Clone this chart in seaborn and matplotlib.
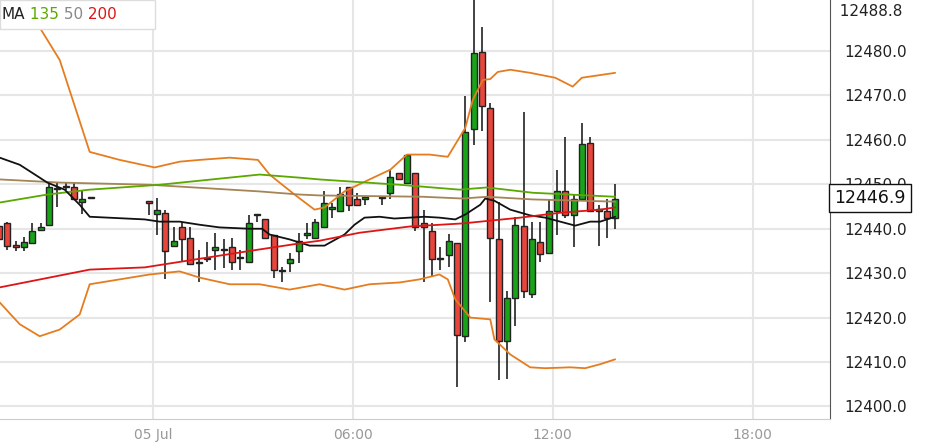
import matplotlib
matplotlib.use("Agg")
import matplotlib.pyplot as plt
import seaborn as sns
import pandas as pd
import numpy as np

# 15-minute candles; index 0 = 05 Jul 00:00
idx = [-19,-18,-17,-16,-15,-14,-13,-12,-11,-10,-9,-8,
       -1,0,1,2,3,4,5,6,7,8,9,10,11,12,13,14,15,16,17,18,19,20,21,22,23,24,25,
       27,28,29,30,31,32,33,34,35,36,37,38,39,40,41,42,43,44,45,46,47,48,49,50,51,52,53,54,55]
opn = [12440.7,12441.2,12436.2,12436.0,12436.9,12439.8,12440.9,12449.0,12449.5,12449.3,12446.1,12447.0,
       12446.1,12443.4,12443.6,12436.2,12440.3,12438.0,12432.4,12433.3,12435.3,12435.3,12435.8,12433.5,12432.4,12443.0,12442.1,12438.7,12430.4,12432.2,12434.9,12438.7,12438.0,12440.5,12444.5,12443.9,12449.3,12446.6,12446.8,
       12447.0,12448.1,12452.6,12450.4,12452.6,12441.4,12439.6,12433.1,12434.0,12436.7,12415.8,12462.5,12479.8,12467.2,12437.6,12414.7,12424.5,12440.7,12425.4,12437.1,12434.6,12443.9,12448.4,12443.0,12446.8,12459.4,12444.1,12444.1,12442.5]
high = [12441.6,12441.6,12437.3,12438.2,12441.4,12441.4,12450.4,12450.4,12450.4,12450.2,12448.8,12447.0,
        12446.3,12447.0,12444.3,12440.3,12441.6,12440.3,12435.3,12437.1,12439.1,12437.6,12438.0,12435.3,12443.2,12443.0,12442.1,12438.7,12431.3,12434.6,12439.1,12441.4,12442.1,12448.4,12445.9,12449.3,12449.5,12448.1,12446.8,
        12447.0,12453.3,12452.6,12456.7,12452.6,12444.3,12441.4,12435.8,12438.9,12436.7,12469.9,12491.5,12485.4,12468.4,12446.1,12425.9,12442.7,12466.3,12441.6,12441.6,12446.8,12453.3,12460.7,12447.7,12463.9,12460.7,12445.4,12446.6,12450.0]
low = [12436.2,12435.3,12434.9,12434.9,12436.9,12439.8,12440.9,12445.0,12448.8,12446.6,12443.4,12447.0,
       12443.2,12438.7,12428.6,12436.2,12432.6,12432.0,12427.9,12432.6,12430.8,12431.1,12430.8,12430.8,12432.4,12441.6,12437.6,12429.0,12427.9,12430.2,12432.2,12437.6,12438.0,12440.5,12442.5,12443.9,12443.9,12445.4,12445.4,
       12445.4,12446.6,12451.3,12450.4,12439.4,12428.1,12429.3,12430.8,12431.3,12404.3,12414.4,12458.9,12462.1,12423.4,12405.9,12406.1,12418.0,12424.5,12424.5,12432.6,12434.6,12438.7,12442.5,12436.0,12446.8,12443.9,12436.2,12438.0,12440.0]
cls = [12437.6,12436.2,12436.0,12437.1,12439.6,12440.3,12449.3,12448.9,12449.4,12446.6,12446.8,12447.0,
       12445.9,12444.3,12434.9,12437.3,12437.6,12432.0,12432.3,12433.2,12436.0,12435.3,12432.6,12433.5,12441.4,12443.0,12438.0,12430.8,12430.4,12433.3,12437.3,12438.7,12441.6,12445.7,12445.0,12447.9,12445.4,12445.4,12446.8,
       12447.0,12451.7,12451.3,12456.7,12440.5,12440.3,12433.1,12433.1,12437.3,12416.0,12461.8,12479.6,12467.7,12438.0,12414.7,12424.5,12440.9,12425.9,12437.6,12434.4,12443.9,12448.6,12443.0,12446.6,12459.1,12443.9,12444.1,12442.5,12446.8]

bb_up_x = [-15.3,-14.3,-11.7,-8.1,-4.5,-0.3,2.7,5.1,8.7,12.1,13.5,16.5,18.9,20.1,22.5,25.5,28.0,30.0,32.7,34.9,37.0,37.9,39.1,40.0,40.9,42.4,44.8,47.8,49.9,51.0,53.2,55.0]
bb_up_y = [12487.5,12485.9,12478.0,12457.3,12455.5,12453.8,12455.1,12455.5,12456.0,12455.5,12452.2,12447.7,12444.3,12444.8,12448.4,12451.1,12453.3,12456.7,12456.7,12456.2,12462.7,12469.0,12473.5,12473.7,12475.3,12475.8,12475.1,12474.0,12472.0,12474.0,12474.6,12475.1]
bb_lo_x = [-18.9,-16.5,-14.1,-11.7,-9.3,-8.1,-4.5,-0.9,2.7,5.1,8.7,12.3,15.9,19.5,22.5,25.5,29.1,31.5,33.9,34.9,35.8,37.6,40.0,40.5,42.4,44.8,46.6,49.6,51.4,53.2,55.0]
bb_lo_y = [12423.4,12418.5,12415.8,12417.3,12420.7,12427.5,12428.6,12429.7,12430.4,12429.0,12427.5,12427.5,12426.3,12427.5,12426.3,12427.5,12427.9,12428.6,12429.7,12428.6,12424.1,12420.0,12419.6,12415.1,12411.7,12408.8,12408.6,12408.8,12408.6,12409.5,12410.6]
mid_x = [-18.9,-16.5,-14.1,-13.2,-11.1,-9.3,-8.1,-1.5,0.3,2.7,5.1,7.5,11.1,12.6,13.5,15.9,17.1,18.3,20.1,22.5,23.7,24.9,26.7,28.5,30.3,32.1,33.9,35.8,37.0,38.8,39.4,40.5,42.4,44.8,46.6,48.4,50.2,52.0,53.2,55.0]
mid_y = [12456.0,12454.4,12451.5,12450.4,12448.8,12445.4,12442.7,12442.1,12441.6,12441.6,12440.9,12440.3,12440.0,12440.0,12438.7,12437.6,12436.9,12436.2,12436.2,12438.7,12440.9,12442.5,12442.7,12442.3,12442.5,12442.7,12442.5,12442.1,12443.2,12445.4,12446.8,12446.3,12444.3,12443.0,12442.5,12441.6,12440.7,12441.6,12441.6,12442.7]
ma200_x = [-18.9,-8.1,-1.5,11.1,17.1,19.5,24.3,30.3,36.7,43.6,48.4,53.2,55.0]
ma200_y = [12426.8,12430.8,12431.3,12435.0,12436.7,12437.3,12439.1,12440.5,12441.2,12442.5,12443.6,12444.3,12444.8]
ma135_x = [-18.9,-13.2,-8.1,0.3,12.3,17.1,19.5,29.1,36.3,39.6,45.1,55.0]
ma135_y = [12445.9,12447.7,12448.8,12449.9,12452.2,12451.5,12451.1,12449.9,12448.8,12449.3,12448.1,12447.2]
ma50_x = [-18.9,-11.7,-0.9,12.3,17.1,19.5,31.9,36.7,39.6,45.1,55.0]
ma50_y = [12451.1,12450.4,12449.9,12448.4,12447.7,12447.5,12447.2,12446.8,12447.2,12446.6,12446.1]

yticks = [12400.0,12410.0,12420.0,12430.0,12440.0,12450.0,12460.0,12470.0,12480.0]
xtick_pos = [-0.5,23.5,47.5,71.5]
xtick_lab = ["05 Jul","06:00","12:00","18:00"]
last_price = 12446.9
top_price = 12488.8

sns.set_style("white")
plt.rcParams['font.family'] = ['DejaVu Sans']
fig = plt.figure(figsize=(9.4,4.47), dpi=100)
ax = fig.add_axes([0.0, 0.062, 0.883, 0.938])

UP = "#19a319"; DN = "#e8453c"
for k,o,h,l,c in zip(idx,opn,high,low,cls):
    ax.vlines(k, l, h, color="#222222", lw=1.2, zorder=3)
    col = UP if c >= o else DN
    b = min(o,c); ht = max(abs(c-o), 0.25)
    ax.bar(k, ht, bottom=b, width=0.72, color=col, edgecolor="#222222", lw=1.0, zorder=4)

def line(xs, ys, color, lw=1.3):
    sns.lineplot(x=xs, y=ys, ax=ax, color=color, lw=lw, zorder=5, sort=False)

line(bb_up_x, bb_up_y, "#e57d20")
line(bb_lo_x, bb_lo_y, "#e57d20")
line(ma50_x, ma50_y, "#a58556")
line(ma135_x, ma135_y, "#5aa800")
line(mid_x, mid_y, "#111111")
line(ma200_x, ma200_y, "#dd1515")

ax.set_xlim(-18.87, 80.8)
ax.set_ylim(12397.1, 12491.5)
ax.set_yticks(yticks)
ax.set_xticks(xtick_pos)
ax.grid(True, color="#e6e6e6", lw=1.5)
ax.set_axisbelow(True)
ax.yaxis.tick_right()
ax.set_yticklabels([f"{v:.1f}" for v in yticks], fontsize=11, color="#222222")
ax.set_xticklabels(xtick_lab, fontsize=10, color="#999999")
ax.tick_params(axis='y', length=0, pad=10)
ax.tick_params(axis='x', length=0, pad=6)
for s in ["top","left"]:
    ax.spines[s].set_visible(False)
ax.spines["right"].set_color("#555555")
ax.spines["bottom"].set_color("#cccccc")

ax.text(1.0, top_price, f"  {top_price:.1f}", transform=ax.get_yaxis_transform(),
        va="center", ha="left", fontsize=11, color="#222222")
ax.text(1.005, last_price, f"{last_price:.1f}", transform=ax.get_yaxis_transform(),
        va="center", ha="left", fontsize=12.5, color="#111111", zorder=20, clip_on=False,
        bbox=dict(boxstyle="square,pad=0.3", fc="white", ec="#111111", lw=1))

# legend box
ax.add_patch(plt.Rectangle((0,0.93), 0.187, 0.07, transform=ax.transAxes,
             fc="white", ec="#dddddd", lw=1, zorder=6))
parts = [("MA", "#222222"), (" 135", "#5aa800"), (" 50", "#888888"), (" 200", "#dd1515")]
xpos = 0.002
for t,c in parts:
    tx = ax.text(xpos, 0.965, t, transform=ax.transAxes, fontsize=11, color=c,
                 va="center", ha="left", zorder=7)
    fig.canvas.draw()
    bb = tx.get_window_extent()
    xpos += bb.width / ax.get_window_extent().width

fig.savefig("out.png", dpi=100)
